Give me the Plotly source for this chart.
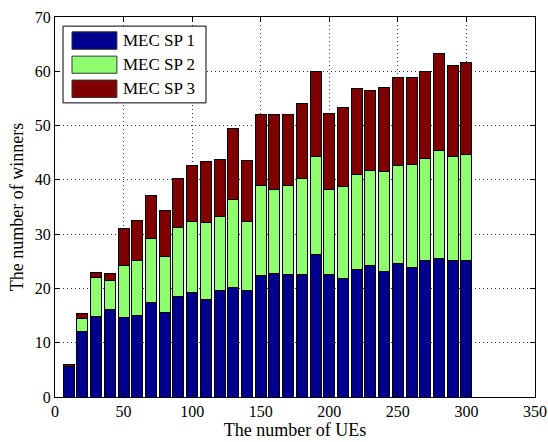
import plotly.graph_objects as go

ues = [10, 20, 30, 40, 50, 60, 70, 80, 90, 100, 110, 120, 130, 140, 150,
       160, 170, 180, 190, 200, 210, 220, 230, 240, 250, 260, 270, 280, 290, 300]

# cumulative tops
top_sp1 = [5.7, 12.0, 14.9, 16.2, 14.7, 15.0, 17.4, 15.5, 18.6, 19.2, 18.0, 19.6, 20.2, 19.6, 22.3,
           22.7, 22.6, 22.6, 26.2, 22.5, 21.8, 23.4, 24.3, 23.2, 24.6, 23.9, 25.1, 25.5, 25.2, 25.2]
top_sp2 = [5.7, 14.5, 22.0, 21.4, 24.2, 25.2, 29.2, 25.9, 31.2, 32.4, 32.2, 33.3, 36.3, 32.3, 38.9,
           38.2, 39.0, 40.2, 44.3, 38.3, 38.8, 41.0, 41.8, 41.5, 42.7, 42.9, 43.9, 45.5, 44.3, 44.7]
top_sp3 = [5.9, 15.4, 23.0, 22.7, 31.0, 32.5, 37.1, 34.4, 40.2, 42.7, 43.4, 43.7, 49.5, 43.6, 52.1,
           52.1, 52.1, 54.1, 60.0, 52.3, 53.4, 56.9, 56.4, 57.0, 58.9, 58.8, 59.9, 63.3, 61.1, 61.6]

sp1 = top_sp1
sp2 = [round(b - a, 2) for a, b in zip(top_sp1, top_sp2)]
sp3 = [round(c - b, 2) for b, c in zip(top_sp2, top_sp3)]

names = ["MEC SP 1", "MEC SP 2", "MEC SP 3"]
colors = ["#00008F", "#8FFF70", "#800000"]

x_ticks = [0, 50, 100, 150, 200, 250, 300, 350]
y_ticks = [0, 10, 20, 30, 40, 50, 60, 70]

FONT = "Liberation Serif, Times New Roman, serif"

fig = go.Figure()
for name, vals, col in zip(names, [sp1, sp2, sp3], colors):
    fig.add_trace(go.Bar(x=ues, y=vals, name=name, width=8,
                         marker=dict(color=col, line=dict(color="black", width=1)),
                         showlegend=False))

axis_common = dict(showline=True, linecolor="black", linewidth=1, mirror="ticks",
                   ticks="inside", ticklen=5, tickcolor="black", automargin=False,
                   showgrid=True, gridcolor="#333333", griddash="1px,3px", gridwidth=1,
                   zeroline=False, tickfont=dict(family=FONT, size=16, color="black"))

fig.update_layout(
    width=548, height=442,
    margin=dict(l=55, r=13, t=17, b=45),
    barmode="stack",
    paper_bgcolor="white", plot_bgcolor="white",
    font=dict(family=FONT, color="black"),
    xaxis=dict(range=[0, 350], tickvals=x_ticks,
               title=dict(text="The number of UEs", font=dict(family=FONT, size=18), standoff=4),
               **axis_common),
    yaxis=dict(range=[0, 70], tickvals=y_ticks,
               title=dict(text="The number of winners", font=dict(family=FONT, size=18), standoff=6),
               **axis_common),
)

# legend box (drawn in paper coordinates)
fig.add_shape(type="rect", xref="paper", yref="paper", x0=0.0167, x1=0.3146, y0=0.774, y1=0.976,
              line=dict(color="black", width=1), fillcolor="white", layer="above")
rows = [(0.915, 0.961, 0.938), (0.852, 0.897, 0.874), (0.788, 0.834, 0.811)]
for (y0, y1, yc), name, col in zip(rows, names, colors):
    fig.add_shape(type="rect", xref="paper", yref="paper", x0=0.0354, x1=0.129, y0=y0, y1=y1,
                  line=dict(color="#333333", width=1), fillcolor=col, layer="above")
    fig.add_annotation(xref="paper", yref="paper", x=0.1375, y=yc, text=name, showarrow=False,
                       xanchor="left", yanchor="middle",
                       font=dict(family=FONT, size=17, color="black"))

fig.write_html("out.html", config={"displayModeBar": False},
               post_script="document.body.style.margin='0';document.body.style.overflow='hidden';")
